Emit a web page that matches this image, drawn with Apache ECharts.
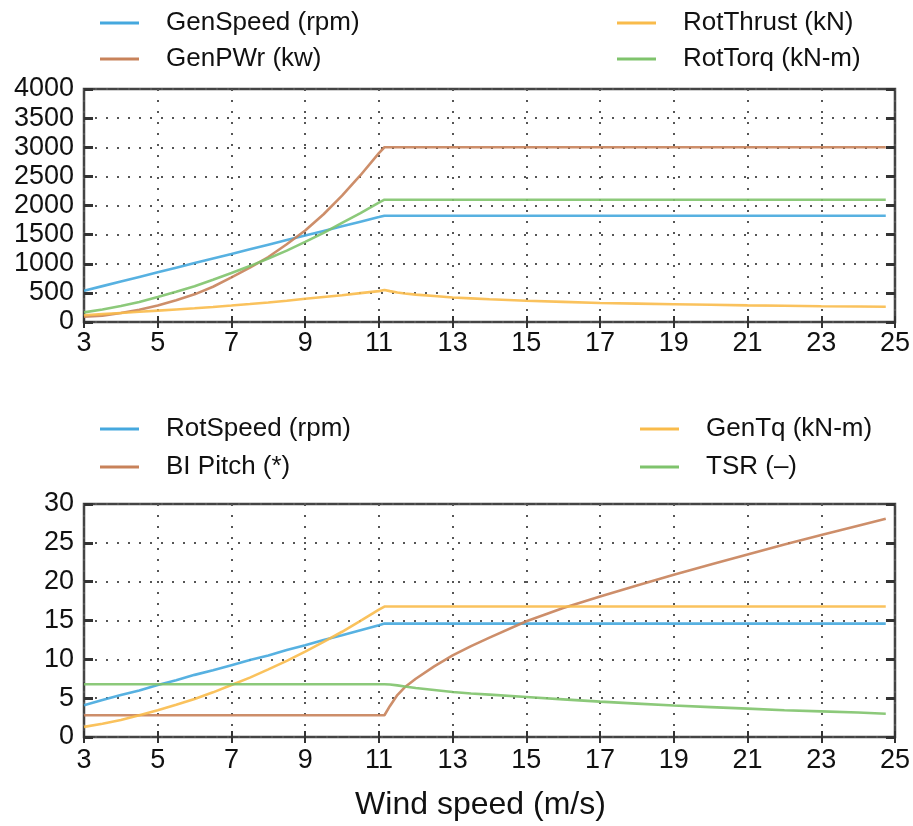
<!DOCTYPE html>
<html>
<head>
<meta charset="utf-8">
<script src="https://cdn.jsdelivr.net/npm/echarts@6/dist/echarts.min.js"></script>
<style>html,body{margin:0;padding:0;background:#fff}#c{width:913px;height:826px}</style>
</head>
<body>
<div id="c"></div>
<script>
// Wind speed samples (m/s)
const windSpeed = [3,3.5,4,4.5,5,5.5,6,6.5,7,7.5,8,8.5,9,9.5,10,10.5,11,11.15,11.3,11.5,11.7,12,12.5,13,13.5,14,15,16,17,18,19,20,21,22,23,24,24.75];
// Top panel
const genSpeed  = [537,616,695,774,853,932,1011,1090,1169,1248,1327,1406,1485,1564,1643,1722,1801,1825,1825,1825,1825,1825,1825,1825,1825,1825,1825,1825,1825,1825,1825,1825,1825,1825,1825,1825,1825];
const genPwr    = [90,110,155,210,285,375,475,605,765,935,1115,1335,1570,1850,2170,2520,2900,3000,3000,3000,3000,3000,3000,3000,3000,3000,3000,3000,3000,3000,3000,3000,3000,3000,3000,3000,3000];
const rotThrust = [115,135,155,175,195,215,235,258,282,308,335,365,400,430,460,495,530,550,530,505,490,470,445,420,405,390,365,345,325,315,305,295,285,278,270,265,262];
const rotTorq   = [165,215,275,345,430,520,615,725,840,960,1090,1225,1375,1530,1700,1870,2050,2100,2100,2100,2100,2100,2100,2100,2100,2100,2100,2100,2100,2100,2100,2100,2100,2100,2100,2100,2100];
// Bottom panel
const rotSpeed  = [4.1,4.75,5.4,6.0,6.7,7.3,8.0,8.6,9.25,9.9,10.5,11.2,11.8,12.5,13.1,13.75,14.4,14.6,14.6,14.6,14.6,14.6,14.6,14.6,14.6,14.6,14.6,14.6,14.6,14.6,14.6,14.6,14.6,14.6,14.6,14.6,14.6];
const blPitch   = [2.8,2.8,2.8,2.8,2.8,2.8,2.8,2.8,2.8,2.8,2.8,2.8,2.8,2.8,2.8,2.8,2.8,2.8,4.0,5.4,6.4,7.5,9.1,10.5,11.7,12.8,14.9,16.6,18.1,19.5,20.9,22.2,23.5,24.8,26.0,27.2,28.1];
const genTq     = [1.3,1.7,2.2,2.8,3.45,4.15,4.9,5.75,6.7,7.65,8.7,9.8,11.0,12.25,13.55,14.95,16.4,16.8,16.8,16.8,16.8,16.8,16.8,16.8,16.8,16.8,16.8,16.8,16.8,16.8,16.8,16.8,16.8,16.8,16.8,16.8,16.8];
const tsr       = [6.8,6.8,6.8,6.8,6.8,6.8,6.8,6.8,6.8,6.8,6.8,6.8,6.8,6.8,6.8,6.8,6.8,6.8,6.75,6.65,6.5,6.3,6.05,5.8,5.6,5.45,5.15,4.85,4.55,4.3,4.05,3.85,3.65,3.45,3.3,3.15,3.0];

const C = {blue:'#45a8de', brown:'#c8825a', orange:'#f9bb4b', green:'#7fc36c'};
const FONT = 'Liberation Sans, Arial, sans-serif';
const pairs = (ys) => windSpeed.map((x,i)=>[x,ys[i]]);
const plain = (v) => String(v);

const gridLine = {show:true, lineStyle:{color:'#555', width:2, type:[2,9]}};
function xMain(g, margin, name){
  const a = {type:'value', gridIndex:g, min:3, max:25, interval:2, position:'bottom',
    axisLine:{show:false}, axisTick:{show:true, inside:true, length:6, lineStyle:{color:'#333', width:2}},
    axisLabel:{fontSize:27, color:'#111', fontFamily:FONT, margin:margin, formatter:plain},
    splitLine:gridLine};
  if (name){ a.name=name; a.nameLocation='middle'; a.nameGap=52;
    a.nameTextStyle={fontSize:32, color:'#111', fontFamily:FONT, padding:[0,18,0,0]}; }
  return a;
}
function xTop(g){
  return {type:'value', gridIndex:g, min:3, max:25, interval:2, position:'top',
    axisLine:{show:false}, axisTick:{show:true, inside:true, length:6, lineStyle:{color:'#333', width:2}},
    axisLabel:{show:false}, splitLine:{show:false}};
}
function yMain(g, max, interval){
  return {type:'value', gridIndex:g, min:0, max:max, interval:interval, position:'left',
    axisLine:{show:false}, axisTick:{show:true, inside:true, length:9, lineStyle:{color:'#333', width:3}},
    axisLabel:{fontSize:27, color:'#111', fontFamily:FONT, margin:10, formatter:plain},
    splitLine:gridLine};
}
function yRight(g, max, interval){
  return {type:'value', gridIndex:g, min:0, max:max, interval:interval, position:'right',
    axisLine:{show:false}, axisTick:{show:true, inside:true, length:9, lineStyle:{color:'#333', width:3}},
    axisLabel:{show:false}, splitLine:{show:false}};
}
function leg(name, left, center){
  return {data:[name], left:left, top:center-13, padding:0, itemWidth:39, itemHeight:3,
    icon:'rect', textStyle:{fontSize:26, color:'#111', fontFamily:FONT, padding:[0,0,0,22]},
    selectedMode:false};
}
function line(name, ys, color, xi, yi){
  return {name:name, type:'line', xAxisIndex:xi, yAxisIndex:yi, data:pairs(ys), showSymbol:false,
    symbol:'none', lineStyle:{color:color, width:2.6, opacity:0.9}, itemStyle:{color:color}, z:3, silent:true};
}

const chart = echarts.init(document.getElementById('c'), null, {renderer:'canvas'});
chart.setOption({
  animation:false,
  backgroundColor:'#fff',
  legend:[
    leg('GenSpeed (rpm)', 100, 23), leg('GenPWr (kw)', 100, 59),
    leg('RotThrust (kN)', 617, 23), leg('RotTorq (kN-m)', 617, 59),
    leg('RotSpeed (rpm)', 100, 429), leg('BI Pitch (*)', 100, 467),
    leg('GenTq (kN-m)', 640, 429), leg('TSR (–)', 640, 467)
  ],
  grid:[
    {left:84, right:17, top:89, height:233, show:true, borderColor:'#444', borderWidth:2.5, backgroundColor:'transparent'},
    {left:84, right:17, top:504, height:233, show:true, borderColor:'#444', borderWidth:2.5, backgroundColor:'transparent'}
  ],
  xAxis:[ xMain(0,8), xTop(0), xMain(1,10,'Wind speed (m/s)'), xTop(1) ],
  yAxis:[ yMain(0,4000,500), yRight(0,4000,500), yMain(1,30,5), yRight(1,30,5) ],
  series:[
    line('GenSpeed (rpm)', genSpeed, C.blue, 0, 0),
    line('GenPWr (kw)', genPwr, C.brown, 0, 0),
    line('RotThrust (kN)', rotThrust, C.orange, 0, 0),
    line('RotTorq (kN-m)', rotTorq, C.green, 0, 0),
    line('RotSpeed (rpm)', rotSpeed, C.blue, 2, 2),
    line('BI Pitch (*)', blPitch, C.brown, 2, 2),
    line('GenTq (kN-m)', genTq, C.orange, 2, 2),
    line('TSR (–)', tsr, C.green, 2, 2)
  ]
});
</script>
</body>
</html>
